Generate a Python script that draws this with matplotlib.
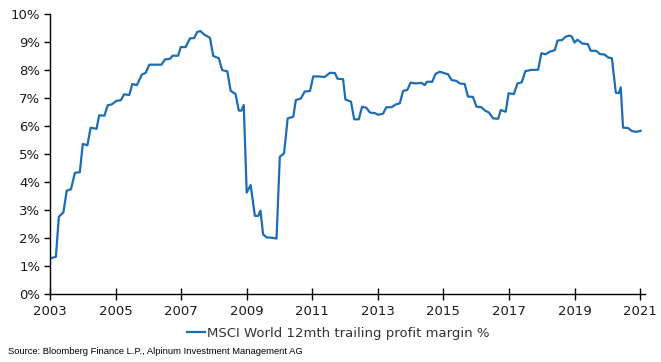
import matplotlib
matplotlib.use("Agg")
import matplotlib.pyplot as plt
from matplotlib.ticker import FuncFormatter

# MSCI World 12mth trailing profit margin (decimal year, %)
years = [2003.00, 2003.18, 2003.27, 2003.41, 2003.51, 2003.64, 2003.76, 2003.91,
         2004.00, 2004.14, 2004.24, 2004.42, 2004.50, 2004.66, 2004.76, 2004.88,
         2005.03, 2005.16, 2005.26, 2005.42, 2005.51, 2005.65, 2005.80, 2005.92,
         2006.03, 2006.20, 2006.40, 2006.51, 2006.66, 2006.74, 2006.91, 2006.99,
         2007.14, 2007.27, 2007.40, 2007.49, 2007.59, 2007.70, 2007.88, 2007.98,
         2008.15, 2008.25, 2008.41, 2008.51, 2008.66, 2008.76, 2008.84, 2008.91,
         2009.00, 2009.12, 2009.25, 2009.35, 2009.42, 2009.50, 2009.61, 2009.76,
         2009.91, 2010.01, 2010.14, 2010.25, 2010.42, 2010.50, 2010.65, 2010.77,
         2010.93, 2011.03, 2011.18, 2011.38, 2011.54, 2011.69, 2011.77, 2011.94,
         2012.01, 2012.18, 2012.28, 2012.42, 2012.52, 2012.65, 2012.76, 2012.91,
         2013.01, 2013.16, 2013.26, 2013.42, 2013.55, 2013.67, 2013.77, 2013.90,
         2014.00, 2014.15, 2014.33, 2014.43, 2014.50, 2014.66, 2014.76, 2014.89,
         2015.04, 2015.14, 2015.25, 2015.40, 2015.50, 2015.65, 2015.75, 2015.90,
         2016.01, 2016.16, 2016.26, 2016.39, 2016.52, 2016.67, 2016.75, 2016.90,
         2016.99, 2017.15, 2017.26, 2017.39, 2017.50, 2017.66, 2017.89, 2017.99,
         2018.12, 2018.24, 2018.40, 2018.48, 2018.62, 2018.73, 2018.85, 2018.92,
         2019.00, 2019.09, 2019.23, 2019.41, 2019.49, 2019.67, 2019.77, 2019.92,
         2020.02, 2020.14, 2020.26, 2020.35, 2020.41, 2020.48, 2020.63, 2020.75,
         2020.89, 2021.02]
margin = [1.27, 1.33, 2.76, 2.92, 3.69, 3.74, 4.33, 4.35,
          5.36, 5.31, 5.94, 5.90, 6.38, 6.37, 6.74, 6.77,
          6.90, 6.92, 7.13, 7.11, 7.50, 7.46, 7.83, 7.90,
          8.19, 8.19, 8.19, 8.38, 8.40, 8.51, 8.51, 8.82,
          8.82, 9.13, 9.14, 9.36, 9.39, 9.27, 9.15, 8.50,
          8.42, 8.00, 7.95, 7.26, 7.14, 6.55, 6.55, 6.75,
          3.62, 3.89, 2.79, 2.79, 2.98, 2.13, 2.02, 2.01,
          1.98, 4.90, 5.02, 6.27, 6.33, 6.93, 6.98, 7.23,
          7.25, 7.77, 7.77, 7.75, 7.90, 7.89, 7.69, 7.67,
          6.95, 6.87, 6.24, 6.24, 6.69, 6.65, 6.48, 6.46,
          6.40, 6.44, 6.67, 6.67, 6.77, 6.81, 7.25, 7.29,
          7.55, 7.52, 7.54, 7.46, 7.58, 7.58, 7.86, 7.94,
          7.88, 7.85, 7.64, 7.61, 7.52, 7.50, 7.05, 7.04,
          6.69, 6.67, 6.56, 6.48, 6.27, 6.26, 6.57, 6.51,
          7.17, 7.14, 7.52, 7.56, 7.96, 8.00, 8.01, 8.60,
          8.56, 8.65, 8.71, 9.05, 9.07, 9.19, 9.23, 9.19,
          8.98, 9.08, 8.95, 8.92, 8.69, 8.68, 8.57, 8.55,
          8.45, 8.42, 7.19, 7.17, 7.38, 5.94, 5.93, 5.82,
          5.79, 5.83]

x_ticks = [2003, 2005, 2007, 2009, 2011, 2013, 2015, 2017, 2019, 2021]
y_ticks = list(range(0, 11))
series_name = "MSCI World 12mth trailing profit margin %"
source = "Source: Bloomberg Finance L.P., Alpinum Investment Management AG"

plt.rcParams["font.family"] = ["DejaVu Sans"]

fig = plt.figure(figsize=(6.61, 3.62), dpi=100)
ax = fig.add_axes([50 / 661, 1 - 294 / 362, 595 / 661, 280 / 362])

line, = ax.plot(years, margin, color="#1c6db3", lw=1.6, label=series_name)

ax.set_xlim(2003, 2021.15)
ax.set_ylim(0, 10)
ax.set_xticks(x_ticks)
ax.set_yticks(y_ticks)
ax.yaxis.set_major_formatter(FuncFormatter(lambda v, p: "%d%%" % v))

for s in ["top", "right"]:
    ax.spines[s].set_visible(False)
for s in ["left", "bottom"]:
    ax.spines[s].set_linewidth(1.0)
    ax.spines[s].set_color("black")

ax.tick_params(axis="x", direction="inout", length=8, width=1, labelsize=9.5, pad=4, colors="black")
ax.tick_params(axis="y", direction="out", length=4, width=1, labelsize=9.5, pad=3, colors="black")
for lab in ax.get_xticklabels() + ax.get_yticklabels():
    lab.set_color("#1a1a1a")

fig.legend(handles=[line], loc="center", bbox_to_anchor=(338 / 661, 1 - 333 / 362),
           frameon=False, fontsize=9.5, handlelength=1.4, handletextpad=0.1,
           labelcolor="#333333")

fig.text(8 / 661, 1 - 352 / 362, source, fontsize=6.75, color="black",
         family=["Liberation Sans Narrow", "Liberation Sans", "DejaVu Sans"], va="center")

fig.savefig("out.png", dpi=100)
